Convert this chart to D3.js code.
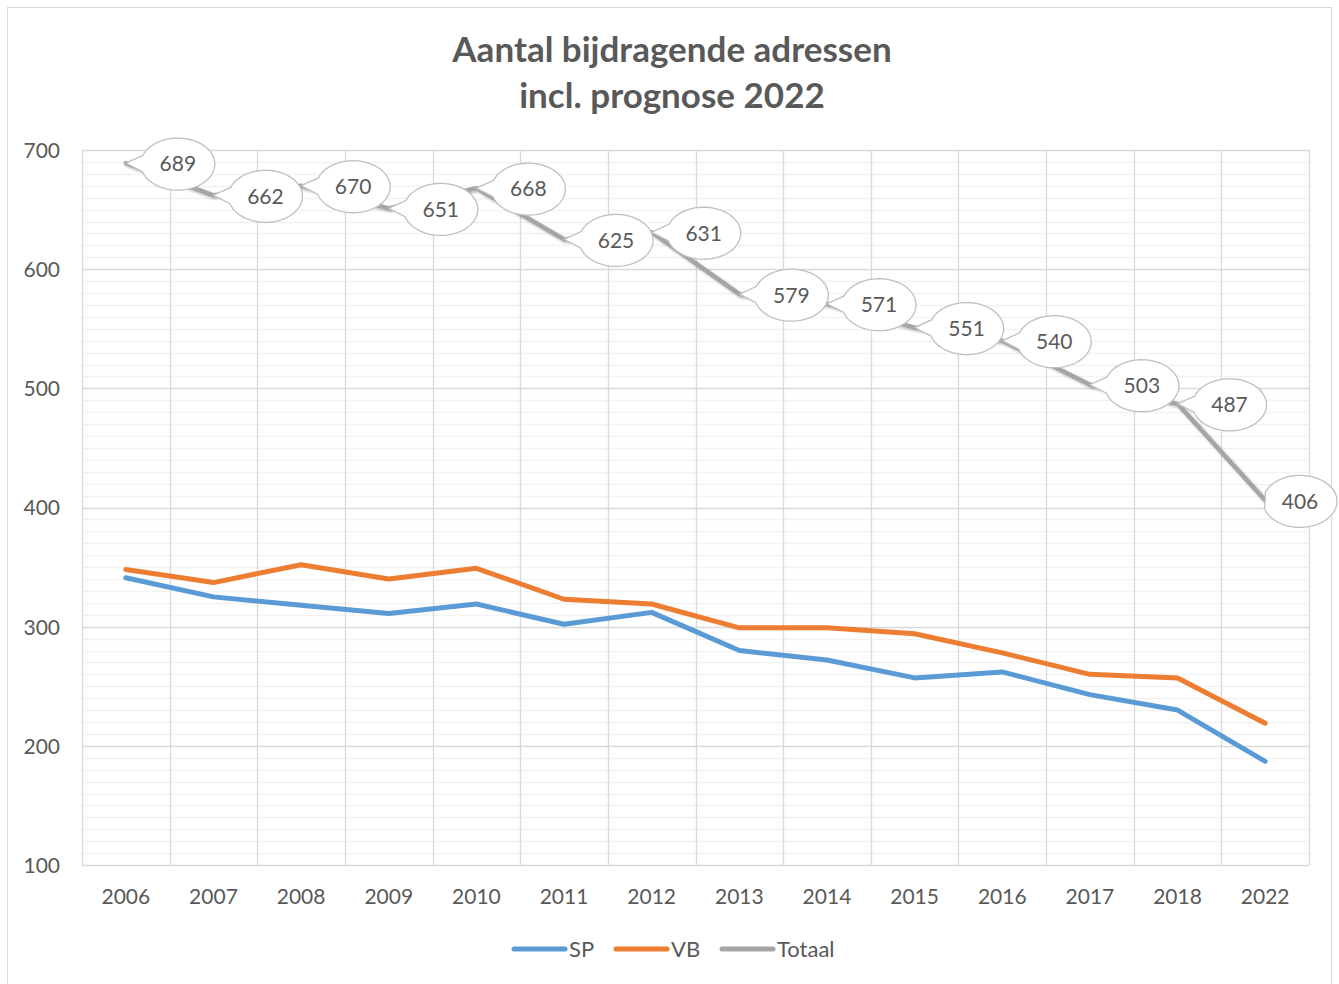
<!DOCTYPE html>
<html>
<head>
<meta charset="utf-8">
<script src="https://cdn.jsdelivr.net/npm/d3@7"></script>
<style>
  html, body { margin: 0; padding: 0; background: #fff; }
  svg { display: block; }
  text { font-family: Lato, "Open Sans", sans-serif; fill: #595959; }
</style>
</head>
<body>
<svg id="chart" width="1339" height="984"></svg>
<script>
const years = ["2006","2007","2008","2009","2010","2011","2012","2013","2014","2015","2016","2017","2018","2022"];
const sp     = [341,325,318,311,319,302,312,280,272,257,262,243,230,187];
const vb     = [348,337,352,340,349,323,319,299,299,294,278,260,257,219];
const totaal = [689,662,670,651,668,625,631,579,571,551,540,503,487,406];
const yTicks = [100,200,300,400,500,600,700];
const titleLines = ["Aantal bijdragende adressen", "incl. prognose 2022"];
const seriesNames = ["SP","VB","Totaal"];
const seriesColors = ["#5b9bd5","#ed7d31","#a5a5a5"];

const W = 1339, H = 984;
const plot = {left: 82, right: 1309, top: 150, bottom: 865};

const svg = d3.select("#chart");

// outer border
svg.append("rect").attr("x",7.5).attr("y",7.5).attr("width",1324).attr("height",990)
  .attr("fill","#fff").attr("stroke","#d9d9d9").attr("stroke-width",1);

// title
const title = svg.append("text").attr("text-anchor","middle")
  .attr("font-size",35).attr("font-weight","bold");
titleLines.forEach((t,i)=> title.append("tspan").attr("x",672).attr("y",62 + i*46).text(t));

const x = d3.scaleBand().domain(years).range([plot.left, plot.right]).padding(0);
const y = d3.scaleLinear().domain([100,700]).range([plot.bottom, plot.top]);

const g = svg.append("g");

// minor gridlines every 10
g.append("g").selectAll("line").data(d3.range(110,700,10).filter(v=>v%100!==0)).join("line")
  .attr("x1",plot.left).attr("x2",plot.right)
  .attr("y1",d=>Math.round(y(d))+0.5).attr("y2",d=>Math.round(y(d))+0.5)
  .attr("stroke","#f2f2f2").attr("stroke-width",1.3);

// major gridlines
g.append("g").selectAll("line").data(yTicks).join("line")
  .attr("x1",plot.left).attr("x2",plot.right)
  .attr("y1",d=>Math.round(y(d))+0.5).attr("y2",d=>Math.round(y(d))+0.5)
  .attr("stroke","#d9d9d9").attr("stroke-width",1.3);

// vertical gridlines at category boundaries
const bounds = years.map(d=>x(d)).concat([plot.right]);
g.append("g").selectAll("line").data(bounds).join("line")
  .attr("x1",d=>Math.round(d)+0.5).attr("x2",d=>Math.round(d)+0.5)
  .attr("y1",plot.top).attr("y2",plot.bottom)
  .attr("stroke","#d9d9d9").attr("stroke-width",1.3);

// y axis labels
const yAxis = d3.axisLeft(y).tickValues(yTicks).tickSize(0).tickPadding(0);
const ya = svg.append("g").attr("transform",`translate(60,0)`).call(yAxis);
ya.select(".domain").remove();
ya.selectAll("text").attr("font-size",21).attr("fill","#595959")
  .attr("font-family","Lato, 'Open Sans', sans-serif").attr("dy","0.35em");

// x axis labels
const xAxis = d3.axisBottom(x).tickSize(0).tickPadding(0);
const xa = svg.append("g").attr("transform",`translate(0,${plot.bottom+24})`).call(xAxis);
xa.select(".domain").remove();
xa.selectAll("text").attr("font-size",21).attr("fill","#595959")
  .attr("font-family","Lato, 'Open Sans', sans-serif").attr("dy","0.71em");

const cx = d => x(d) + x.bandwidth()/2;
const line = d3.line().x((d,i)=>cx(years[i])).y(d=>y(d));

const defs = svg.append("defs");
const f = defs.append("filter").attr("id","shadow").attr("x","-10%").attr("y","-10%").attr("width","120%").attr("height","120%");
f.append("feDropShadow").attr("dx",1.5).attr("dy",1.5).attr("stdDeviation",0.8).attr("flood-color","#000").attr("flood-opacity",0.3);

// Totaal line with shadow
svg.append("path").datum(totaal).attr("d",line).attr("fill","none")
  .attr("stroke",seriesColors[2]).attr("stroke-width",4.5).attr("stroke-linejoin","round")
  .attr("stroke-linecap","round").attr("filter","url(#shadow)");

svg.append("path").datum(vb).attr("d",line).attr("fill","none")
  .attr("stroke",seriesColors[1]).attr("stroke-width",5).attr("stroke-linejoin","round").attr("stroke-linecap","round");
svg.append("path").datum(sp).attr("d",line).attr("fill","none")
  .attr("stroke",seriesColors[0]).attr("stroke-width",5).attr("stroke-linejoin","round").attr("stroke-linecap","round");

// callout labels for Totaal
const rx = 37, ry = 26;
function calloutPath(ccx, ccy, tx, ty) {
  const theta = Math.atan2((ty-ccy)/ry, (tx-ccx)/rx);
  const delta = 0.32;
  const pts = [];
  const n = 80;
  for (let k=0;k<=n;k++){
    const t = theta + delta + (2*Math.PI - 2*delta)*k/n;
    pts.push([ccx + rx*Math.cos(t), ccy + ry*Math.sin(t)]);
  }
  pts.push([tx,ty]);
  return "M" + pts.map(p=>p[0].toFixed(2)+","+p[1].toFixed(2)).join("L") + "Z";
}
const labels = svg.append("g");
totaal.forEach((v,i)=>{
  const px = cx(years[i]), py = y(v);
  let lx = px + 52, ly = py + 1;
  if (lx + rx > W - 2) lx = W - 2 - rx;
  labels.append("path").attr("d",calloutPath(lx,ly,px,py))
    .attr("fill","#fff").attr("stroke","#bfbfbf").attr("stroke-width",1.3);
  labels.append("text").attr("x",lx).attr("y",ly).attr("dy","0.35em")
    .attr("text-anchor","middle").attr("font-size",21).text(v);
});

// legend
const legendX = [512, 614, 720];
const leg = svg.append("g");
seriesNames.forEach((n,i)=>{
  leg.append("line").attr("x1",legendX[i]+2).attr("x2",legendX[i]+53).attr("y1",949).attr("y2",949)
    .attr("stroke",seriesColors[i]).attr("stroke-width",5).attr("stroke-linecap","round");
  leg.append("text").attr("x",legendX[i]+57).attr("y",949).attr("dy","0.35em")
    .attr("font-size",22).text(n);
});
</script>
</body>
</html>
